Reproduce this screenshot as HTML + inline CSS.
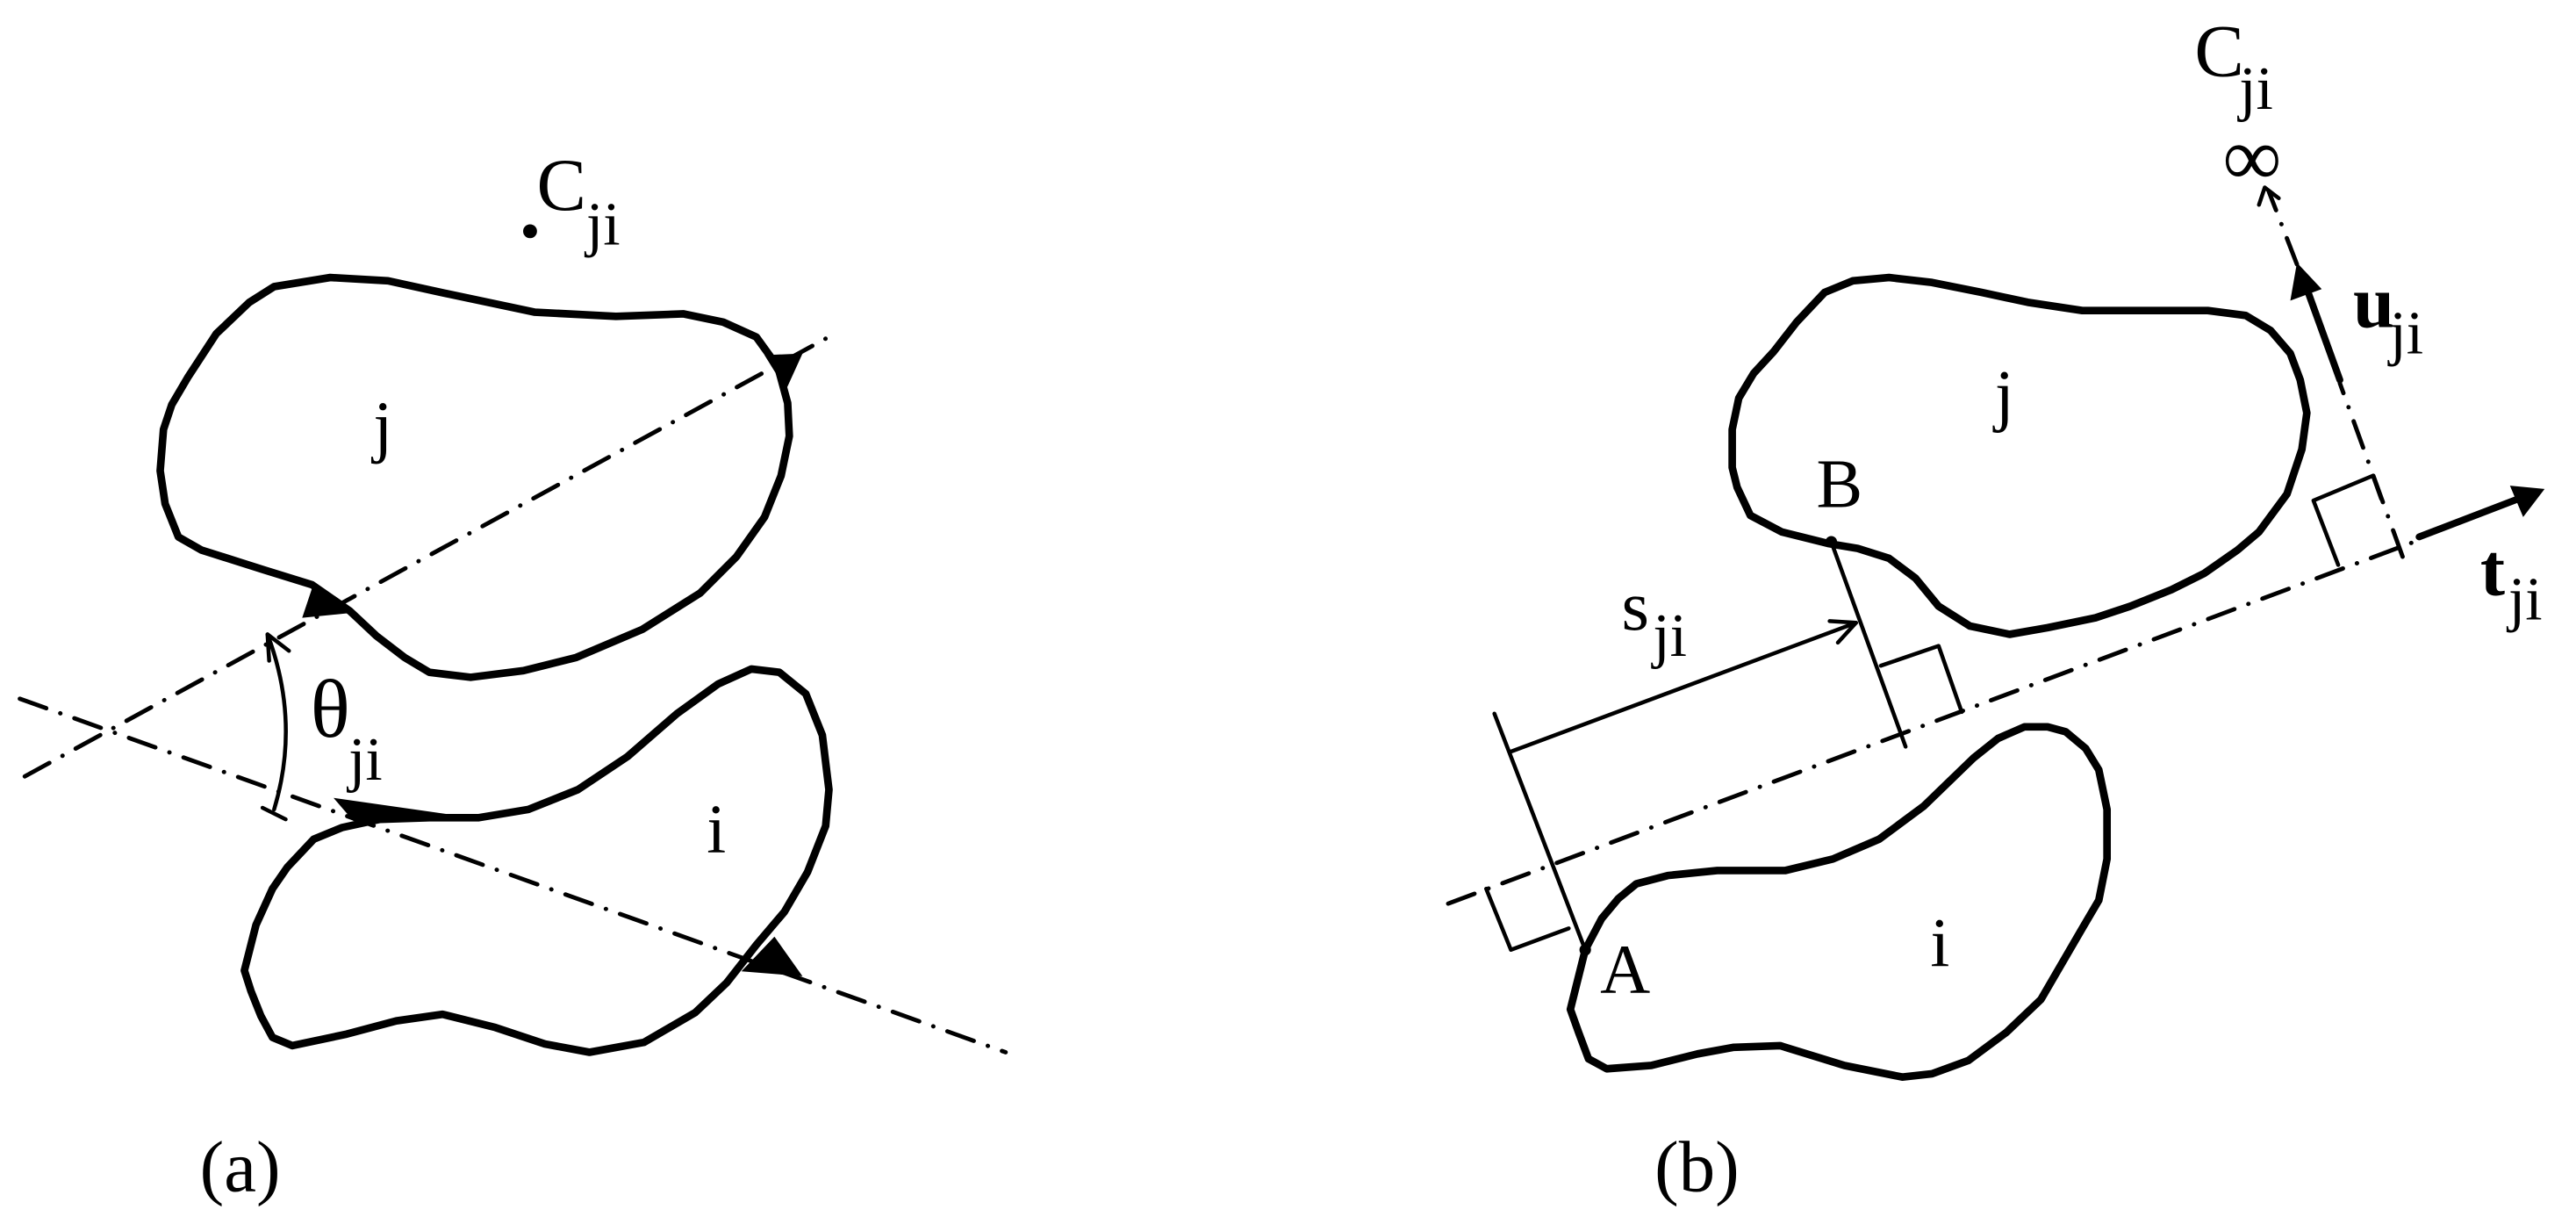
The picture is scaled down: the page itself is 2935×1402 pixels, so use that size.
<!DOCTYPE html>
<html><head><meta charset="utf-8"><style>
html,body{margin:0;padding:0;background:#fff;}
svg{display:block;}
text{font-family:"Liberation Serif",serif;fill:#000;}
</style></head><body>
<svg width="2935" height="1402" viewBox="0 0 1560 745.2" preserveAspectRatio="none" xmlns="http://www.w3.org/2000/svg">
<rect width="1560" height="746" fill="#fff"/>
<g fill="none" stroke="#000" stroke-linejoin="round" stroke-linecap="round">
<polygon stroke-width="4.6" points="104,245 114,228 131,202 151,183 166,173.5 200,168 235,170 267,177 324,189 373,191.5 414,190 438,195 458,204 471,222 477,244 478,264 473,288 463,313 446,337 424,359 389,381 349,398 317,406 285,410 260,407 245,398 228,385 212,370 189,354 160,345 122,333 108,325 100,305 97,285 99,260"/>
<polygon stroke-width="4.6" points="148,587.5 155,560 165,538 174,525 190,508 207,501 230,496 260,495 290,495 320,490 350,478 380,458 410,432 435,414 455,405 472,407 488,420 498,445 502,478 500,500 489,528 475,552 458,572 440,595 421,613 390,631 357,637 330,632 300,622 268,614 240,618 210,626 177,633 165,628 158,615 152,600"/>
<g stroke-width="2.6" stroke-dasharray="17 9 0.1 9">
<line x1="15" y1="470" x2="500" y2="205"/>
<line x1="12" y1="423" x2="609" y2="637"/>
</g>
<path stroke-width="2.4" d="M162,384 Q182,437 166,490"/>
<path stroke-width="2.4" d="M175,394 L162,384 L163,400"/>
<line stroke-width="2.4" x1="159" y1="489" x2="173" y2="496"/>
<polygon stroke-width="4.6" points="1053,241 1062,226 1074,213 1088,195 1105,177 1122,170 1144,168 1170,171 1200,177 1228,183 1261,188 1300,188 1337,188 1360,191 1375,200 1387,214 1393,230 1397,250 1394,272 1385,299 1368,322 1355,333 1335,347 1315,357 1290,367 1269,374 1240,380 1217,384 1193,379 1174,367 1160,350 1144,338 1125,332 1107,329 1079,322 1060,312 1052,295 1049,283 1049,260"/>
<polygon stroke-width="4.6" points="960,575 970,556 980,544 991,535 1010,530 1040,527 1081,527 1110,520 1138,508 1165,488 1195,459 1210,447 1226,440 1240,440 1251,443 1263,453 1271,466 1276,490 1276,520 1271,545 1261,562 1236,605 1215,625 1192,642 1170,650 1152,652 1117,645 1078,633 1050,634 1028,638 1000,645 973,647 962,641 956,625 951,611"/>
<g stroke-width="2.6" stroke-dasharray="17 9 0.1 9">
<line x1="877" y1="547" x2="1462" y2="328"/>
<line x1="1455" y1="337" x2="1417" y2="232"/>
<line x1="1391" y1="160" x2="1374" y2="116"/>
</g>
<g stroke-width="2.4">
<line x1="1109" y1="328" x2="1154" y2="452"/>
<line x1="905" y1="432" x2="960" y2="575"/>
<line x1="915" y1="455" x2="1124" y2="377"/>
<polyline points="1108,376 1124,377 1113,389"/>
<polyline points="950,562 915,575 900,538"/>
<polyline points="1139,403 1174,391 1188,431"/>
<polyline points="1416,342 1401,303 1437,288 1442,302"/>
<line x1="1449.5" y1="321.6" x2="1455" y2="337"/>
<polyline points="1368,124 1371.5,113.5 1380,120"/>
</g>
<line stroke-width="4.2" x1="1465" y1="325" x2="1525" y2="302"/>
<line stroke-width="4.2" x1="1417" y1="230" x2="1396" y2="172"/>
</g>
<g fill="#000" stroke="none">
<circle cx="321" cy="140" r="4.2"/>
<polygon points="463,215 486,214 476,236"/>
<polygon points="183,374 190,353 213,371"/>
<polygon points="202,483 214,497 272,493"/>
<polygon points="469,567 449,588 486,591"/>
<polygon points="1541,296 1520,294 1528,313"/>
<polygon points="1391,159 1387,182 1406,175"/>
<circle cx="1109" cy="328" r="3.5"/>
<circle cx="960" cy="575" r="3.5"/>
</g>
<text x="325" y="127" font-size="45">C</text>
<text x="355" y="148" font-size="37">ji</text>
<text x="226" y="272" font-size="42">j</text>
<text x="428" y="516" font-size="42">i</text>
<text x="188" y="446" font-size="50">θ</text>
<text x="211" y="472" font-size="37">ji</text>
<text x="121" y="721" font-size="44">(a)</text>
<text x="1002" y="721" font-size="44">(b)</text>
<text x="1329" y="46" font-size="45">C</text>
<text x="1356" y="66" font-size="37">ji</text>
<text x="1346" y="112" font-size="50">∞</text>
<text x="1425" y="198" font-size="45" font-weight="bold">u</text>
<text x="1447" y="214" font-size="37">ji</text>
<text x="1502" y="360" font-size="45" font-weight="bold">t</text>
<text x="1519" y="375" font-size="37">ji</text>
<text x="1100" y="307" font-size="42">B</text>
<text x="1208" y="253" font-size="42">j</text>
<text x="969" y="601" font-size="42">A</text>
<text x="1169" y="585" font-size="42">i</text>
<text x="982" y="381" font-size="43">s</text>
<text x="1001" y="397" font-size="37">ji</text>
</svg>
</body></html>
